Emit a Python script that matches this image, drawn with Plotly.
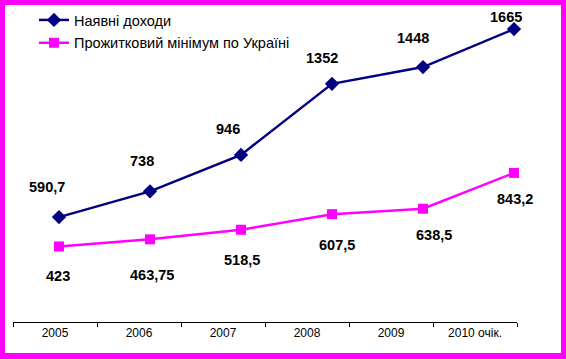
import plotly.graph_objects as go

years = ["2005", "2006", "2007", "2008", "2009", "2010 очік."]
income = [590.7, 738, 946, 1352, 1448, 1665]
minimum = [423, 463.75, 518.5, 607.5, 638.5, 843.2]
income_name = "Наявні доходи"
minimum_name = "Прожитковий мінімум по Україні"

# label offsets (pixels) - style only
income_shift = [(-12, 30), (-8, 30), (-13, 26), (-10, 26), (-10, 29), (-8, 12)]
minimum_shift = [(-1, -30), (2, -36), (1, -30), (5, -31), (11, -26), (1, -26)]

NAVY = "#000080"
MAG = "#FF00FF"
FONT = "Arial, Liberation Sans, sans-serif"

W, H = 566, 359
ml, mr, mt, mb = 13, 49, 10, 37
pw = W - ml - mr
ph = H - mt - mb

def fmt(v):
    return f"{v:g}".replace(".", ",")

idx = list(range(len(years)))

fig = go.Figure()
# hidden trace to build the category axis
fig.add_trace(go.Scatter(x=years, y=[None] * len(years), xaxis="x", yaxis="y",
                         showlegend=False, hoverinfo="skip", mode="markers"))
fig.add_trace(go.Scatter(x=idx, y=income, name=income_name, xaxis="x2", yaxis="y",
                         mode="lines+markers", legendgroup="a",
                         line=dict(color=NAVY, width=2.5),
                         marker=dict(symbol="diamond", size=11, color=NAVY),
                         cliponaxis=False))
fig.add_trace(go.Scatter(x=idx, y=minimum, name=minimum_name, xaxis="x2", yaxis="y",
                         mode="lines+markers", legendgroup="b",
                         line=dict(color=MAG, width=2.5),
                         marker=dict(symbol="square", size=10, color=MAG),
                         cliponaxis=False))

LABEL_FONT = dict(family=FONT, size=14.5, color="black", weight="bold")
ann = []
for i, v in enumerate(income):
    dx, dy = income_shift[i]
    ann.append(dict(x=i, y=v, xref="x2", yref="y", text=fmt(v), showarrow=False,
                    xshift=dx, yshift=dy, font=LABEL_FONT))
for i, v in enumerate(minimum):
    dx, dy = minimum_shift[i]
    ann.append(dict(x=i, y=v, xref="x2", yref="y", text=fmt(v), showarrow=False,
                    xshift=dx, yshift=dy, font=LABEL_FONT))

# frame: magenta paper with white inner rectangle
def px_x(p):
    return (p - ml) / pw

def px_y(p):
    return (H - mb - p) / ph

shapes = [dict(type="rect", xref="paper", yref="paper", layer="below",
               x0=px_x(5), x1=px_x(561), y0=px_y(353), y1=px_y(5),
               fillcolor="white", line=dict(width=0))]

fig.update_layout(
    width=W, height=H,
    margin=dict(l=ml, r=mr, t=mt, b=mb, autoexpand=False),
    paper_bgcolor=MAG,
    plot_bgcolor="rgba(0,0,0,0)",
    font=dict(family=FONT, color="black"),
    showlegend=True,
    legend=dict(x=px_x(34), y=px_y(4), xanchor="left", yanchor="top",
                bgcolor="rgba(0,0,0,0)", font=dict(size=14.5, family=FONT),
                tracegroupgap=1),
    xaxis=dict(type="category", categoryarray=years, categoryorder="array",
               range=[-0.5, 5.5], tickson="boundaries", ticks="outside",
               ticklen=4, tickcolor="black", showline=True, linecolor="black",
               linewidth=1, showgrid=False, zeroline=False,
               tickfont=dict(size=12, family=FONT, color="black"), fixedrange=True),
    xaxis2=dict(overlaying="x", range=[-46 / 91, 5 + 3 / 91], visible=False,
                showgrid=False, zeroline=False),
    yaxis=dict(range=[-8.6, 1774], visible=False, showgrid=False, zeroline=False),
    annotations=ann,
    shapes=shapes,
)

fig.write_html("out.html", config={"displayModeBar": False},
               post_script="document.body.style.margin='0';")
